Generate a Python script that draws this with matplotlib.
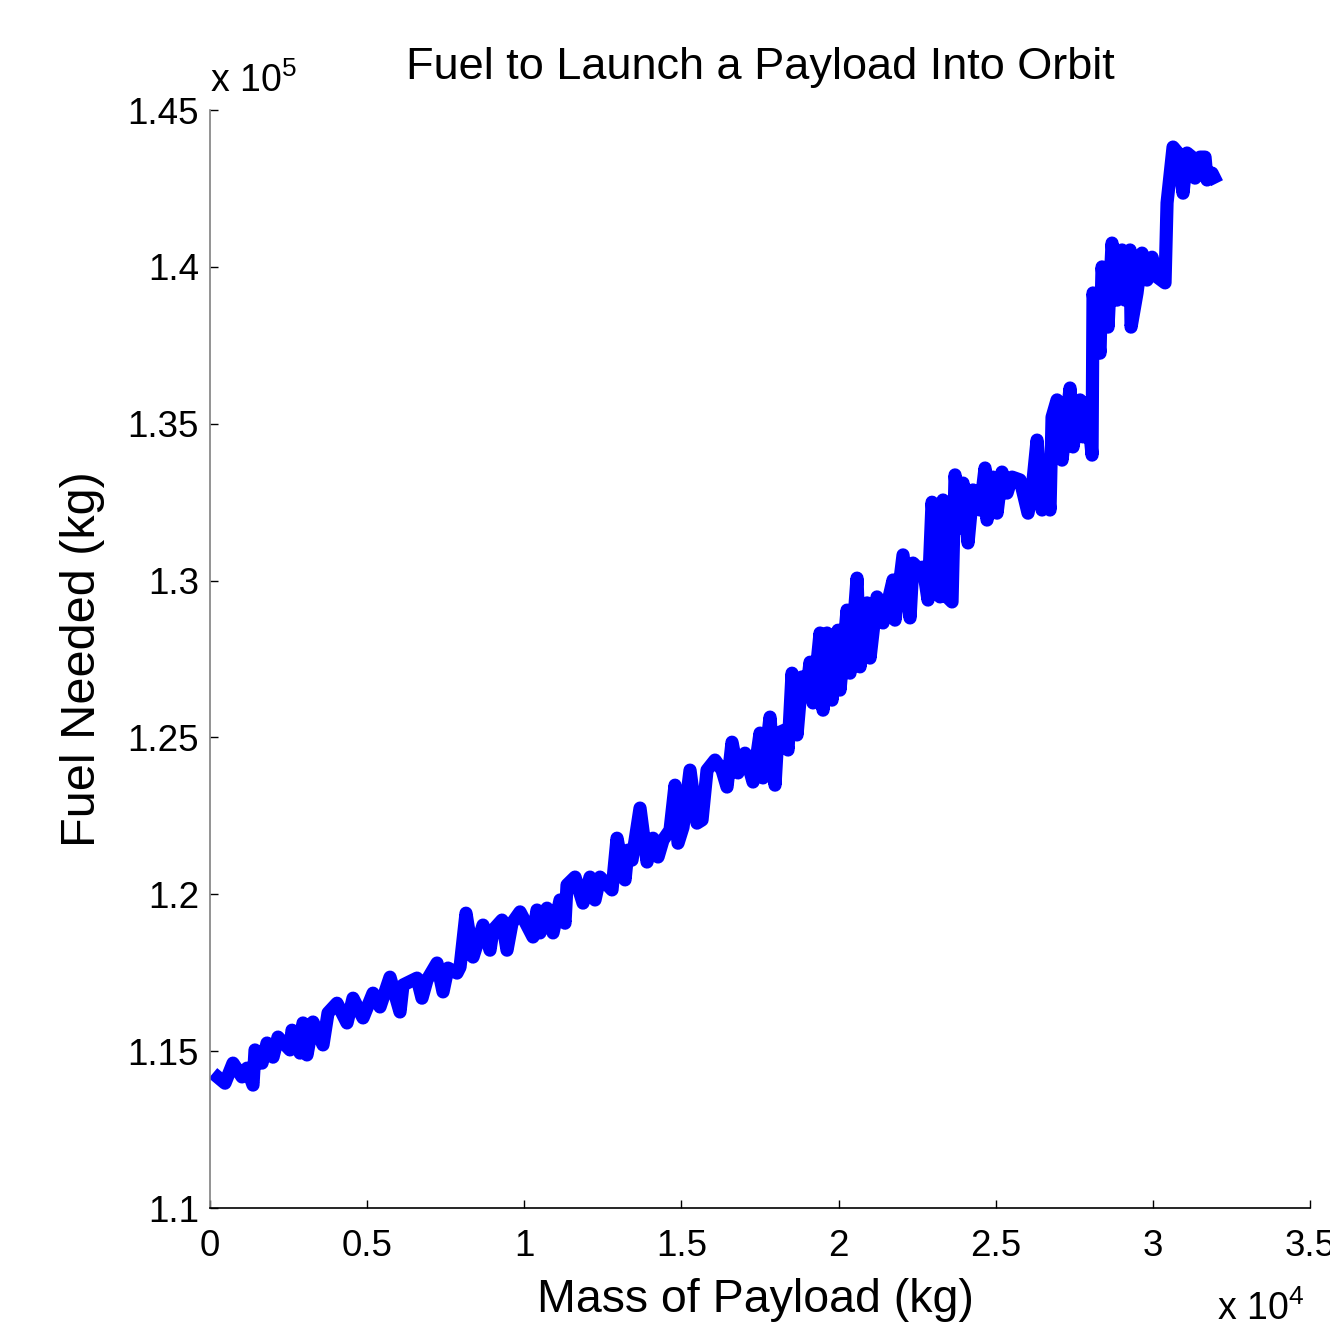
import matplotlib

matplotlib.use("Agg")

import matplotlib.pyplot as plt
from matplotlib.ticker import FixedLocator, FixedFormatter

plt.rcParams["font.family"] = ["Liberation Sans", "DejaVu Sans"]
plt.rcParams["mathtext.fontset"] = "custom"
plt.rcParams["mathtext.rm"] = "Liberation Sans"

# payload mass (kg) and fuel needed (kg)
payload = [
    95, 477, 732, 1018, 1177, 1368, 1432, 1655, 1814, 2005, 2164, 2545, 2609,
    2864, 2959, 3086, 3277, 3595, 3755, 4041, 4359, 4550, 4868, 5186, 5409,
    5727, 6045, 6141, 6586, 6745, 6905, 7223, 7414, 7573, 7859,
    7955, 8145, 8368, 8686, 8909, 9004, 9291, 9450, 9609, 9864, 10277, 10404,
    10500, 10723, 10914, 11136, 11295, 11359, 11614, 11868, 12091, 12250,
    12409, 12791, 12950, 13205, 13300, 13427, 13682, 13905, 14095, 14255,
    14414, 14636, 14795, 14891,
    15050, 15273, 15495, 15655, 15814, 16068, 16291, 16450, 16609, 16800,
    17023, 17277, 17500, 17595, 17818, 17977, 18073, 18295, 18391, 18518,
    18677, 18836, 18995, 19091, 19186, 19409, 19505, 19632, 19791, 19982,
    20045, 20268, 20364, 20586, 20682, 20905, 21000, 21223,
    21414, 21732, 21795, 22050, 22273, 22368, 22527, 22686, 22845, 22973,
    23227, 23323, 23450, 23609, 23705, 23864, 23959, 24118, 24277, 24500,
    24659, 24723, 24914, 25041, 25200, 25359, 25518, 25773, 26027, 26155,
    26314, 26473, 26568, 26727, 26791, 26950, 27109, 27364, 27459, 27682,
    27777, 27904, 28064, 28095, 28318, 28382, 28573, 28700, 28859, 29018,
    29114, 29273, 29305, 29495, 29655, 29814, 29973, 30132, 30386, 30450,
    30641, 30800, 30959, 31086, 31245, 31341, 31500, 31659, 31723, 31882,
    32041,
]
fuel = [
    114300, 113980, 114620, 114180, 114460, 113920, 115040, 114620, 115260,
    114810, 115450, 115040, 115670, 114940, 115900, 114880, 115930, 115200,
    116220, 116530, 115900, 116690, 116060, 116850, 116410, 117360, 116250,
    117110, 117330, 116690, 117270, 117810, 116890, 117650, 117490,
    117680, 119400, 118000, 119020, 118220, 118860, 119180, 118220, 119080,
    119440, 118640, 119500, 118770, 119560, 118770, 119820, 119080, 120300,
    120550, 119720, 120550, 119820, 120550, 120140, 121790, 120460, 121410,
    121090, 122750, 121030, 121790, 121190, 121730, 122050, 123480, 121630,
    122140, 123960, 122270, 122370, 123960, 124280, 123960, 123420, 124850,
    123870, 124500, 123580, 125140, 123710, 125650, 123480, 125140, 125240,
    124600, 127050, 125080, 126930, 126610, 127400, 126100, 128330, 125870,
    128330, 126190, 128420, 126510, 129060, 127050, 130080, 127250, 129290,
    127530, 129480,
    128650, 130020, 128740, 130820, 128810, 130560, 130400, 130430, 129380,
    132500, 129480, 132570, 129480, 129320, 133370, 131680, 133110, 131200,
    132890, 132250, 133590, 131930, 133300, 132150, 133460, 132790, 133300,
    133210, 132150, 132890, 134480, 132250, 133750, 132250, 135210, 135760,
    133840, 136140, 134260, 135760, 134580, 135660, 134000, 139170, 137250,
    140000, 138080, 140760, 138940, 140540, 138940, 140540, 138080, 139170,
    140440, 139580, 140310, 139680, 139490, 142040, 143820, 143630, 142350,
    143630, 143500, 142830, 143500, 143500, 142770, 142990, 142670,
]

x_ticks = [0, 5000, 10000, 15000, 20000, 25000, 30000, 35000]
x_tick_labels = ["0", "0.5", "1", "1.5", "2", "2.5", "3", "3.5"]
y_ticks = [110000, 115000, 120000, 125000, 130000, 135000, 140000, 145000]
y_tick_labels = ["1.1", "1.15", "1.2", "1.25", "1.3", "1.35", "1.4", "1.45"]

fig = plt.figure(figsize=(13.3, 13.29), dpi=100)
ax = fig.add_axes([0.1579, 0.0910, 0.8271, 0.8262])
ax.plot(payload, fuel, color="#0000ff", linewidth=9.5,
        solid_joinstyle="round", solid_capstyle="butt")

ax.set_xlim(0, 35000)
ax.set_ylim(110000, 145000)
ax.xaxis.set_major_locator(FixedLocator(x_ticks))
ax.xaxis.set_major_formatter(FixedFormatter(x_tick_labels))
ax.yaxis.set_major_locator(FixedLocator(y_ticks))
ax.yaxis.set_major_formatter(FixedFormatter(y_tick_labels))
ax.tick_params(direction="in", length=6, width=1, labelsize=26.5)
ax.tick_params(axis="x", pad=15)
ax.tick_params(axis="y", pad=8)

for side in ("top", "right"):
    ax.spines[side].set_visible(False)
ax.spines["left"].set_color("#808080")
ax.spines["left"].set_linewidth(1.2)
ax.spines["bottom"].set_linewidth(1.2)

ax.set_title("Fuel to Launch a Payload Into Orbit", fontsize=32.5, pad=22)
ax.set_xlabel("Mass of Payload (kg)", fontsize=33.5, labelpad=10)
ax.xaxis.label.set_x(0.496)
ax.set_ylabel("Fuel Needed (kg)", fontsize=35, labelpad=16)

fig.text(0.158, 0.931, r"x 10$^{5}$", fontsize=27, ha="left", va="baseline")
fig.text(0.915, 0.007, r"x 10$^{4}$", fontsize=27, ha="left", va="baseline")

fig.savefig("out.png", dpi=100)
